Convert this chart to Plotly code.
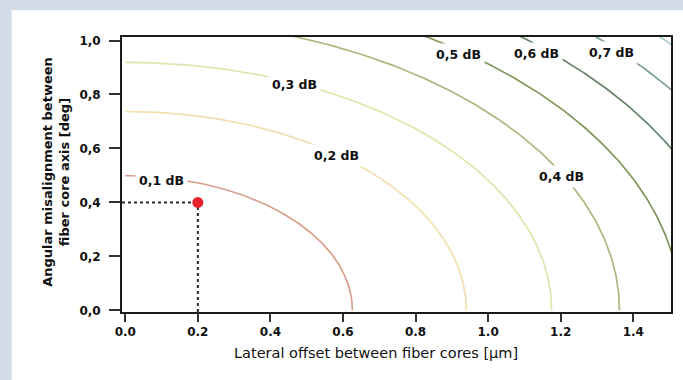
import numpy as np
import plotly.graph_objects as go

# Contour levels (dB) with their intercepts
levels = [0.1, 0.2, 0.3, 0.4, 0.5, 0.6, 0.7, 0.8]
x_intercepts = [0.626, 0.940, 1.175, 1.362, 1.530, 1.686, 1.827, 1.955]   # µm at 0 deg
y_intercepts = [0.499, 0.737, 0.919, 1.080, 1.207, 1.330, 1.441, 1.543]   # deg at 0 µm
level_colors = ["#d9a08e", "#f2dfae", "#e2e4ac", "#a9b97f", "#7f9658",
                "#66846a", "#7f9f9b", "#a9c9d1"]

# Labels for contours
label_text = ["0,1 dB", "0,2 dB", "0,3 dB", "0,4 dB", "0,5 dB", "0,6 dB", "0,7 dB"]
label_x = [0.101, 0.582, 0.467, 1.202, 0.918, 1.133, 1.340]
label_y = [0.481, 0.574, 0.836, 0.496, 0.948, 0.951, 0.954]

# Example point
point_x = [0.2]
point_y = [0.4]

x_tickvals = [0.0, 0.2, 0.4, 0.6, 0.8, 1.0, 1.2, 1.4]
x_ticktext = ["0.0", "0.2", "0.4", "0.6", "0.8", "1.0", "1.2", "1.4"]
y_tickvals = [0.0, 0.2, 0.4, 0.6, 0.8, 1.0]
y_ticktext = ["0,0", "0,2", "0,4", "0,6", "0,8", "1,0"]

x_range = [-0.009, 1.504]
y_range = [-0.006, 1.013]

FONT = "DejaVu Sans"

fig = go.Figure()

t = np.linspace(0, np.pi / 2, 300)
for lv, a, b, c in zip(levels, x_intercepts, y_intercepts, level_colors):
    fig.add_trace(go.Scatter(x=a * np.cos(t), y=b * np.sin(t), mode="lines",
                             line=dict(color=c, width=1.7), hoverinfo="skip",
                             name=f"{lv} dB", showlegend=False))

# dotted guide lines to the point
fig.add_trace(go.Scatter(x=[x_range[0], point_x[0]], y=[point_y[0], point_y[0]],
                         mode="lines", line=dict(color="#2a2a2a", width=2, dash="dot"),
                         showlegend=False))
fig.add_trace(go.Scatter(x=[point_x[0], point_x[0]], y=[y_range[0], point_y[0]],
                         mode="lines", line=dict(color="#2a2a2a", width=2, dash="dot"),
                         showlegend=False))
fig.add_trace(go.Scatter(x=point_x, y=point_y, mode="markers",
                         marker=dict(color="#e8232b", size=11), showlegend=False,
                         cliponaxis=False))

for txt, lx, ly in zip(label_text, label_x, label_y):
    fig.add_annotation(x=lx, y=ly, text=txt, showarrow=False, bgcolor="white",
                       borderpad=3,
                       font=dict(family=FONT, size=12.5, color="#111", weight="bold"))

# outer panel (white) over the blue-grey background
fig.add_shape(type="rect", xref="paper", yref="paper", x0=-0.201, x1=1.03,
              y0=-0.26, y1=1.097, fillcolor="white", line=dict(width=0), layer="below")

# axis titles
fig.add_annotation(xref="paper", yref="paper", x=(377 - 121.7) / 551, y=(311.7 - 353) / 275,
                   text="Lateral offset between fiber cores [µm]", showarrow=False,
                   font=dict(family=FONT, size=14.5, color="#111"), yanchor="middle")
fig.add_annotation(xref="paper", yref="paper", x=(56 - 121.7) / 551, y=(311.7 - 172) / 275,
                   text="Angular misalignment between<br>fiber core axis [deg]", showarrow=False,
                   textangle=-90, font=dict(family=FONT, size=13, color="#111", weight="bold"),
                   xanchor="center", yanchor="middle")

axis_common = dict(showgrid=False, zeroline=False, showline=True, linecolor="#1a1a1a",
                   linewidth=1.8, mirror=True, ticks="outside", tickcolor="#333",
                   tickwidth=1.6,
                   tickfont=dict(family=FONT, size=12, color="#111", weight="bold"))

fig.update_xaxes(range=x_range, tickvals=x_tickvals, ticktext=x_ticktext, ticklen=8,
                 **axis_common)
fig.update_yaxes(range=y_range, tickvals=y_tickvals, ticktext=y_ticktext, ticklen=11,
                 ticklabelstandoff=6, **axis_common)

fig.update_layout(width=683, height=380,
                  margin=dict(l=121.7, r=10.3, t=36.7, b=68.3),
                  paper_bgcolor="#d2dde8", plot_bgcolor="white",
                  showlegend=False)

fig.write_html("out.html", config={"displayModeBar": False},
               post_script="document.body.style.margin='0';document.body.style.overflow='hidden';")
